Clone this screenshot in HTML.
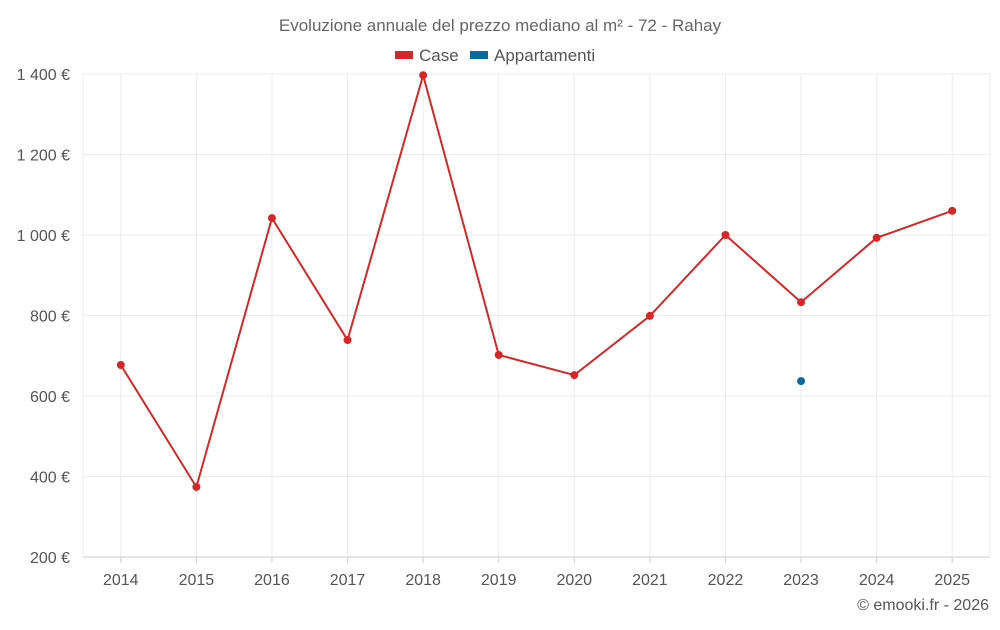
<!DOCTYPE html>
<html><head><meta charset="utf-8"><style>
body{margin:0;background:#fff;font-family:"Liberation Sans",sans-serif;}
svg text{font-family:"Liberation Sans",sans-serif;}
</style></head><body>
<svg id="chart" width="1000" height="625">
<text x="500" y="31" text-anchor="middle" font-size="17" fill="#666">Evoluzione annuale del prezzo mediano al m² - 72 - Rahay</text>
<g>
<g><rect x="395" y="51" width="18" height="8" fill="#d62728"/><text x="419" y="61" font-size="17" fill="#555">Case</text></g>
<g><rect x="470" y="51" width="18" height="8" fill="#0868a0"/><text x="494" y="61" font-size="17" fill="#555">Appartamenti</text></g>
</g>
<g id="grid"></g><g id="marks"></g>
<text x="989" y="610" text-anchor="end" font-size="16" fill="#555">© emooki.fr - 2026</text>
</svg>
<script>
const categories=["2014","2015","2016","2017","2018","2019","2020","2021","2022","2023","2024","2025"];
const caseValues=[677,374,1042,739,1397,702,652,799,1000,833,993,1060];
const appValues=[null,null,null,null,null,null,null,null,null,637,null,null];
const yTicks=[200,400,600,800,1000,1200,1400];
const yTickLabels=["200 €","400 €","600 €","800 €","1 000 €","1 200 €","1 400 €"];
const L=83,R=990,T=74,B=557,NS="http://www.w3.org/2000/svg";
const bw=(R-L)/categories.length;
const x=i=>L+bw*(i+0.5);
const y=v=>B-(v-200)/1200*(B-T);
const grid=document.getElementById('grid'),marks=document.getElementById('marks');
function mk(tag,attrs,parent){const e=document.createElementNS(NS,tag);for(const k in attrs)e.setAttribute(k,attrs[k]);parent.appendChild(e);return e;}
yTicks.forEach((v,i)=>{
 const l=mk('line',{x1:L,x2:R,y1:y(v),y2:y(v),stroke:i==0?'#ccc':'#ebebeb'},grid);
 
 
 const t=mk('text',{x:70,y:y(v)+6,'text-anchor':'end','font-size':16,fill:'#555'},grid);t.textContent=yTickLabels[i];
 
 
});
[L,R].forEach(xx=>{const l=mk('line',{x1:xx,x2:xx,y1:T,y2:B,stroke:'#ebebeb'},grid);
 
 });
categories.forEach((c,i)=>{
 const g=mk('line',{x1:x(i),x2:x(i),y1:T,y2:B,stroke:'#ebebeb'},grid);
 
 
 const tk=mk('line',{x1:x(i),x2:x(i),y1:B,y2:B+6,stroke:'#ccc'},grid);
 
 
 const t=mk('text',{x:x(i),y:B+28,'text-anchor':'middle','font-size':16,fill:'#555'},grid);t.textContent=c;
 
 
});
const pts=caseValues.map((v,i)=>x(i)+','+y(v)).join(' ');
const pl=mk('polyline',{points:pts,fill:'none',stroke:'#d62728','stroke-width':2},marks);


caseValues.forEach((v,i)=>{const c=mk('circle',{cx:x(i),cy:y(v),r:4,fill:'#d62728'},marks);
 
 });
appValues.forEach((v,i)=>{if(v==null)return;const c=mk('circle',{cx:x(i),cy:y(v),r:4,fill:'#0868a0'},marks);
 
 });
</script>
</body></html>
